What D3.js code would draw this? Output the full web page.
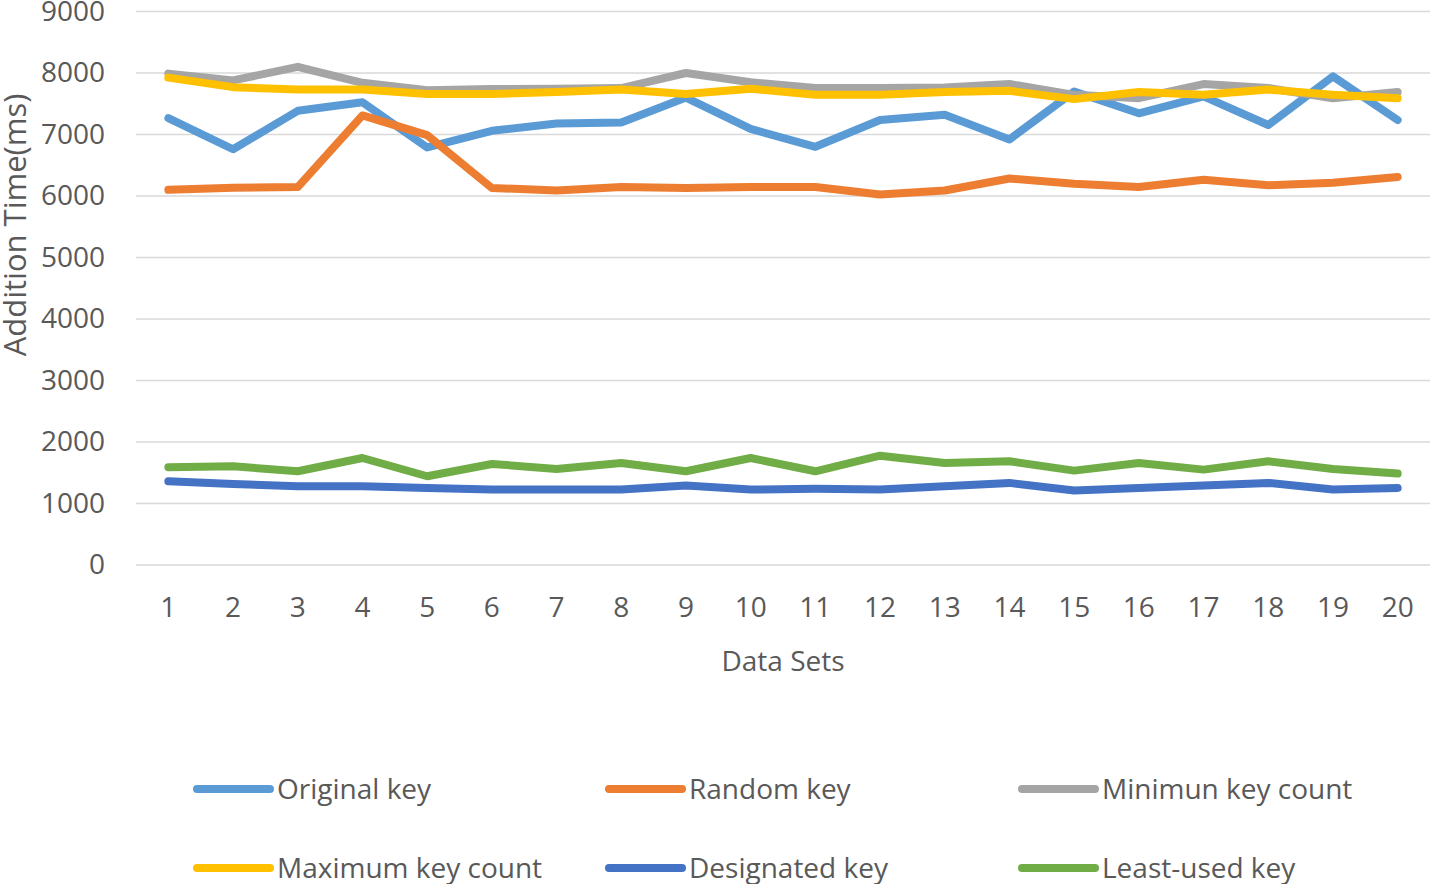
<!DOCTYPE html>
<html><head><meta charset="utf-8">
<script src="https://cdn.jsdelivr.net/npm/d3@7"></script>
<style>body{margin:0;background:#fff;} svg{display:block;}</style>
</head><body>
<svg id="chart" width="1432" height="884"></svg>
<script>
const categories = d3.range(1, 21).map(String);
const yTicks = [0,1000,2000,3000,4000,5000,6000,7000,8000,9000];
const seriesNames = ["Original key","Random key","Minimun key count","Maximum key count","Designated key","Least-used key"];
const seriesColors = ["#5B9BD5","#ED7D31","#A5A5A5","#FFC000","#4472C4","#70AD47"];
const originalKey = [7265,6760,7385,7525,6790,7060,7180,7195,7600,7090,6800,7235,7320,6920,7700,7345,7620,7155,7945,7235];
const randomKey = [6100,6135,6145,7310,6990,6130,6090,6145,6130,6145,6145,6025,6090,6285,6200,6145,6265,6175,6215,6310];
const minimunKeyCount = [7990,7880,8100,7840,7720,7740,7745,7755,8000,7850,7755,7755,7765,7820,7645,7590,7820,7755,7590,7690];
const maximumKeyCount = [7925,7770,7730,7730,7660,7660,7690,7730,7660,7745,7645,7645,7690,7710,7575,7690,7645,7730,7645,7590];
const designatedKey = [1362,1319,1281,1281,1254,1227,1227,1227,1292,1227,1238,1227,1281,1335,1211,1254,1292,1335,1227,1254];
const leastUsedKey = [1589,1605,1524,1740,1443,1643,1562,1660,1524,1740,1524,1778,1660,1686,1535,1660,1551,1686,1562,1486];
const seriesValues = [originalKey, randomKey, minimunKeyCount, maximumKeyCount, designatedKey, leastUsedKey];

const svg = d3.select("#chart");
const font = "'Open Sans', sans-serif";
const textColor = "#595959";
const L = 136, R = 1430, T = 11.5, B = 565;

const x = d3.scaleBand().domain(categories).range([L, R]);
const y = d3.scaleLinear().domain([0, 9000]).range([B, T]);

// gridlines
svg.append("g").selectAll("line").data(yTicks).join("line")
  .attr("x1", L).attr("x2", R)
  .attr("y1", d => y(d)).attr("y2", d => y(d))
  .attr("stroke", "#D9D9D9").attr("stroke-width", 1.6);

// y axis labels
const yAxis = svg.append("g").attr("transform", `translate(${L},0)`)
  .call(d3.axisLeft(y).tickValues(yTicks).tickSize(0).tickPadding(31).tickFormat(d3.format("d")));
yAxis.select(".domain").remove();
yAxis.selectAll("text").attr("font-family", font).attr("font-size", 28).attr("fill", textColor);

// x axis labels
const xAxis = svg.append("g").attr("transform", `translate(0,${B})`)
  .call(d3.axisBottom(x).tickSize(0).tickPadding(32));
xAxis.select(".domain").remove();
xAxis.selectAll("text").attr("font-family", font).attr("font-size", 28).attr("fill", textColor);

// axis titles
svg.append("text").attr("x", (L + R) / 2).attr("y", 671).attr("text-anchor", "middle")
  .attr("font-family", font).attr("font-size", 28).attr("fill", textColor).text("Data Sets");
svg.append("text").attr("transform", "translate(26,225) rotate(-90)").attr("text-anchor", "middle")
  .attr("font-family", font).attr("font-size", 31).attr("fill", textColor).text("Addition Time(ms)");

// lines
const line = d3.line().x((d, i) => x(categories[i]) + x.bandwidth() / 2).y(d => y(d));
svg.append("g").selectAll("path").data(seriesValues).join("path")
  .attr("d", d => line(d))
  .attr("fill", "none")
  .attr("stroke", (d, i) => seriesColors[i])
  .attr("stroke-width", 8)
  .attr("stroke-linejoin", "round")
  .attr("stroke-linecap", "round");

// legend
const legendCols = [197, 609, 1022];
const legendRows = [789, 868];
const lg = svg.append("g").selectAll("g").data(seriesNames).join("g")
  .attr("transform", (d, i) => `translate(${legendCols[i % 3]},${legendRows[Math.floor(i / 3)]})`);
lg.append("line").attr("x1", 0).attr("x2", 73).attr("y1", 0).attr("y2", 0)
  .attr("stroke", (d, i) => seriesColors[i]).attr("stroke-width", 8).attr("stroke-linecap", "round");
lg.append("text").attr("x", 80).attr("y", 0).attr("dy", "0.35em")
  .attr("font-family", font).attr("font-size", 28).attr("fill", textColor).text(d => d);
</script>
</body></html>
